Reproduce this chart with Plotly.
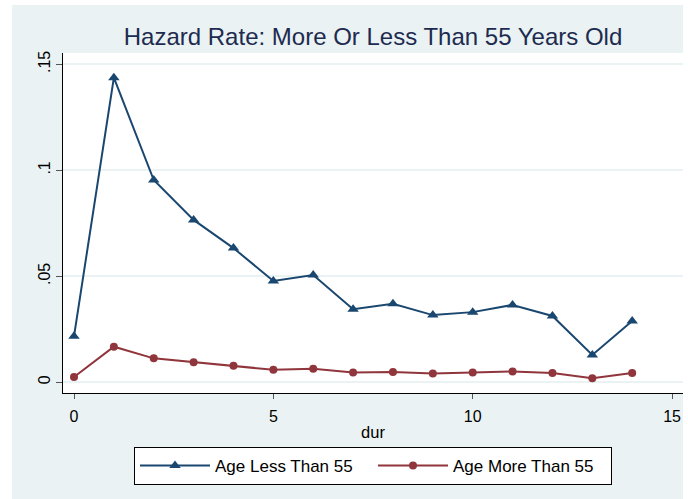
import plotly.graph_objects as go

# ---- data ----
dur = [0, 1, 2, 3, 4, 5, 6, 7, 8, 9, 10, 11, 12, 13, 14]
hazard_less55 = [0.0217, 0.1437, 0.0954, 0.0766, 0.0633, 0.0478, 0.0506, 0.0345,
                 0.0370, 0.0317, 0.0331, 0.0365, 0.0313, 0.0129, 0.0289]
hazard_more55 = [0.0025, 0.0168, 0.0113, 0.0094, 0.0078, 0.0059, 0.0064, 0.0046,
                 0.0049, 0.0042, 0.0046, 0.0051, 0.0044, 0.0019, 0.0044]
y_tickvals = [0, 0.05, 0.1, 0.15]
y_ticktext = ["0", ".05", ".1", ".15"]
x_tickvals = [0, 5, 10, 15]

BLUE = "#1a476f"
RED = "#90353b"
BG = "#eaf2f3"
FONT = "Liberation Sans, Arial, sans-serif"

fig = go.Figure()
fig.add_trace(go.Scatter(
    x=dur, y=hazard_less55, mode="lines+markers", name="Age Less Than 55",
    line=dict(color=BLUE, width=2),
    marker=dict(symbol="triangle-up", size=10, color=BLUE),
))
fig.add_trace(go.Scatter(
    x=dur, y=hazard_more55, mode="lines+markers", name="Age More Than 55",
    line=dict(color=RED, width=2),
    marker=dict(symbol="circle", size=8, color=RED),
))

W, H = 688, 499
L, R, T, B = 63, 5, 53, 106
pw, ph = W - L - R, H - T - B


def px(xpix):
    return (xpix - L) / pw


def py(ypix):
    return (H - B - ypix) / ph


# white frame strips around the light background
shapes = [
    dict(type="rect", xref="paper", yref="paper", x0=px(-5), x1=px(12), y0=py(H + 5), y1=py(-5),
         fillcolor="white", line=dict(width=0), layer="above"),
    dict(type="rect", xref="paper", yref="paper", x0=px(-5), x1=px(W + 5), y0=py(5), y1=py(-5),
         fillcolor="white", line=dict(width=0), layer="above"),
    dict(type="rect", xref="paper", yref="paper", x0=px(W - 5), x1=px(W + 5), y0=py(H + 5), y1=py(-5),
         fillcolor="white", line=dict(width=0), layer="above"),
]

fig.update_layout(
    width=W, height=H,
    margin=dict(l=L, r=R, t=T, b=B, autoexpand=False),
    paper_bgcolor=BG, plot_bgcolor="white",
    font=dict(family=FONT, size=16, color="#000000"),
    title=dict(text="Hazard Rate: More Or Less Than 55 Years Old",
               font=dict(family=FONT, size=24, color="#1e2b50"),
               x=0.5, xref="paper", xanchor="center",
               y=1 - 37 / H, yref="container", yanchor="middle"),
    shapes=shapes,
    showlegend=True,
    legend=dict(orientation="h", x=0.5, xanchor="center", y=py(447), yanchor="top",
                bgcolor="white", bordercolor="#000000", borderwidth=1,
                font=dict(family=FONT, size=17, color="#000000"),
                itemwidth=70, entrywidth=153, entrywidthmode="pixels"),
)

fig.update_xaxes(
    range=[(L - 74) / 39.87, (W - R - 74) / 39.87],
    tickvals=x_tickvals, ticks="outside", ticklen=5, tickcolor="#555555",
    showline=True, linecolor="#000000", linewidth=1,
    showgrid=False, zeroline=False,
    tickfont=dict(family=FONT, size=16, color="#000000"),
    title=dict(text="dur", font=dict(family=FONT, size=16.5, color="#000000"), standoff=2),
    ticklabelstandoff=4,
)
fig.update_yaxes(
    range=[(382.3 - (H - B)) / 2120, (382.3 - T) / 2120],
    tickvals=y_tickvals, ticktext=y_ticktext, tickangle=-90,
    ticks="outside", ticklen=6, tickcolor="#555555",
    showline=True, linecolor="#000000", linewidth=1,
    showgrid=True, gridcolor=BG, gridwidth=1.5, zeroline=False,
    tickfont=dict(family=FONT, size=16, color="#000000"),
)

fig.write_html("out.html", config={"displayModeBar": False},
               post_script="document.body.style.margin='0';document.body.style.overflow='hidden';")
